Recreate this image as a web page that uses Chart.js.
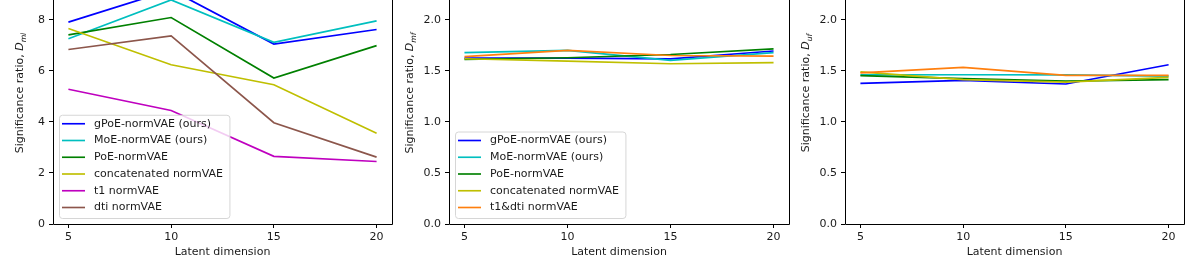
<!DOCTYPE html>
<html>
<head>
<meta charset="utf-8">
<script src="https://cdn.jsdelivr.net/npm/chart.js@4.4.0/dist/chart.umd.min.js"></script>
<style>
  html, body { margin: 0; padding: 0; background: #fff; }
  body { position: relative; width: 1196px; height: 264px; overflow: hidden; }
  .panel { position: absolute; top: -40px; height: 304px; }
</style>
</head>
<body>
<div class="panel" style="left:0px;width:400px"><canvas id="chartMl" width="400" height="304"></canvas></div>
<div class="panel" style="left:400px;width:396px"><canvas id="chartMf" width="396" height="304"></canvas></div>
<div class="panel" style="left:796px;width:400px"><canvas id="chartUf" width="400" height="304"></canvas></div>
<script>
// latent dimensions on the x axis
const latentDims = [5, 10, 15, 20];
const xTicks = [5, 10, 15, 20];
const mlTicks = [0, 2, 4, 6, 8];
const mfTicks = [0, 0.5, 1.0, 1.5, 2.0];

const labelsMl = ["gPoE-normVAE (ours)", "MoE-normVAE (ours)", "PoE-normVAE",
  "concatenated normVAE", "t1 normVAE", "dti normVAE"];
const labelsMf = ["gPoE-normVAE (ours)", "MoE-normVAE (ours)", "PoE-normVAE",
  "concatenated normVAE", "t1&dti normVAE"];

// significance ratio D_ml
const mlGPoE = [7.91, 9.17, 7.05, 7.62];
const mlMoE = [7.26, 8.78, 7.12, 7.96];
const mlPoE = [7.41, 8.09, 5.72, 6.99];
const mlConcat = [7.66, 6.24, 5.46, 3.56];
const mlT1 = [5.28, 4.45, 2.65, 2.45];
const mlDti = [6.84, 7.37, 3.97, 2.62];

// significance ratio D_mf
const mfGPoE = [1.625, 1.625, 1.618, 1.694];
const mfMoE = [1.678, 1.70, 1.602, 1.678];
const mfPoE = [1.612, 1.628, 1.66, 1.716];
const mfConcat = [1.619, 1.596, 1.57, 1.58];
const mfT1Dti = [1.64, 1.70, 1.65, 1.645];

// significance ratio D_uf
const ufGPoE = [1.378, 1.407, 1.371, 1.56];
const ufMoE = [1.46, 1.462, 1.46, 1.449];
const ufPoE = [1.453, 1.424, 1.40, 1.414];
const ufConcat = [1.49, 1.414, 1.39, 1.436];
const ufT1Dti = [1.48, 1.534, 1.456, 1.456];

const colorsMl = ["#0000ff", "#00bfbf", "#008000", "#bfbf00", "#bf00bf", "#8c564b"];
const colorsMf = ["#0000ff", "#00bfbf", "#008000", "#bfbf00", "#ff7f0e"];

const FONT = '"DejaVu Sans", sans-serif';
const TEXT = "#1a1a1a";

const decor = {
  id: "decor",
  afterDraw(chart, args, o) {
    const { ctx, chartArea: a } = chart;
    ctx.save();
    // axes frame
    ctx.strokeStyle = "#000";
    ctx.lineWidth = 1;
    ctx.beginPath();
    ctx.moveTo(a.left + 0.5, a.top);
    ctx.lineTo(a.left + 0.5, a.bottom + 0.5);
    ctx.lineTo(a.right + 0.5, a.bottom + 0.5);
    ctx.lineTo(a.right + 0.5, a.top);
    ctx.stroke();

    // legend (only where the figure has one)
    if (o.showLegend) {
      ctx.font = "11px " + FONT;
      const labels = o.labels, n = labels.length;
      const textW = Math.max(...labels.map(l => ctx.measureText(l).width));
      const rowH = 16.75;
      const boxL = a.left + 6;
      const boxB = a.bottom - 6;
      const lastC = boxB - 10.5;
      const firstC = lastC - (n - 1) * rowH;
      const boxT = firstC - 9;
      const textX = boxL + 35;
      const boxR = textX + textW + 6.5;
      ctx.beginPath();
      ctx.roundRect(boxL + 0.5, boxT + 0.5, boxR - boxL, boxB - boxT, 3);
      ctx.fillStyle = "rgba(255,255,255,0.8)";
      ctx.fill();
      ctx.strokeStyle = "#d6d6d6";
      ctx.stroke();
      ctx.textBaseline = "middle";
      labels.forEach((l, i) => {
        const c = firstC + i * rowH;
        ctx.strokeStyle = o.colors[i];
        ctx.lineWidth = 1.65;
        ctx.beginPath();
        ctx.moveTo(boxL + 3, c);
        ctx.lineTo(boxL + 26, c);
        ctx.stroke();
        ctx.fillStyle = TEXT;
        ctx.fillText(l, textX, c);
      });
    }

    // x axis title
    ctx.font = "11px " + FONT;
    ctx.fillStyle = TEXT;
    ctx.textAlign = "center";
    ctx.textBaseline = "middle";
    ctx.fillText("Latent dimension", (a.left + a.right) / 2, 292);

    // y axis title, rotated, with italic D and subscript
    ctx.save();
    ctx.translate(o.titleX, 133);
    ctx.rotate(-Math.PI / 2);
    ctx.textAlign = "left";
    ctx.textBaseline = "alphabetic";
    const main = "Significance ratio, ";
    ctx.font = "11px " + FONT;
    const w1 = ctx.measureText(main).width;
    ctx.font = "italic 11px " + FONT;
    const w2 = ctx.measureText("D").width;
    ctx.font = "italic 7.7px " + FONT;
    const w3 = ctx.measureText(o.sub).width;
    const x0 = -(w1 + w2 + w3) / 2;
    ctx.font = "11px " + FONT;
    ctx.fillText(main, x0, 4);
    ctx.font = "italic 11px " + FONT;
    ctx.fillText("D", x0 + w1, 4);
    ctx.font = "italic 7.7px " + FONT;
    ctx.fillText(o.sub, x0 + w1 + w2, 6.5);
    ctx.restore();

    ctx.restore();
  }
};

function makePanel(id, series, labels, colors, yTicks, yMax, decimals, g) {
  const datasets = series.map((vals, i) => ({
    label: labels[i],
    data: vals.map((v, j) => ({ x: latentDims[j], y: v })),
    borderColor: colors[i],
    backgroundColor: colors[i],
    borderWidth: 1.65,
    pointRadius: 0,
    tension: 0,
    fill: false,
    order: series.length - i
  }));
  return new Chart(document.getElementById(id), {
    type: "line",
    data: { datasets },
    options: {
      responsive: false,
      animation: false,
      events: [],
      layout: { padding: { left: 0, right: g.padRight, top: 10, bottom: 0 } },
      plugins: {
        legend: { display: false },
        tooltip: { enabled: false },
        decor: { labels, colors, titleX: g.titleX, sub: g.sub, showLegend: g.showLegend }
      },
      scales: {
        x: {
          type: "linear",
          min: 4.25,
          max: 20.75,
          afterBuildTicks: s => { s.ticks = xTicks.map(v => ({ value: v })); },
          afterFit: s => { s.height = 40; },
          grid: { drawOnChartArea: false, drawTicks: true, tickLength: 4, tickColor: "#000", tickWidth: 1 },
          border: { display: false },
          ticks: { font: { family: FONT, size: 11 }, color: TEXT, padding: 3, maxRotation: 0, autoSkip: false,
            callback: v => String(v) }
        },
        y: {
          type: "linear",
          min: 0,
          max: yMax,
          afterBuildTicks: s => { s.ticks = yTicks.map(v => ({ value: v })); },
          afterFit: s => { s.width = g.yWidth; },
          grid: { drawOnChartArea: false, drawTicks: true, tickLength: 4, tickColor: "#000", tickWidth: 1 },
          border: { display: false },
          ticks: { font: { family: FONT, size: 11 }, color: TEXT, padding: 4, autoSkip: false,
            callback: v => v.toFixed(decimals) }
        }
      }
    },
    plugins: [decor]
  });
}

makePanel("chartMl", [mlGPoE, mlMoE, mlPoE, mlConcat, mlT1, mlDti], labelsMl, colorsMl,
  mlTicks, 9.93, 0, { yWidth: 53, padRight: 8, titleX: 19, sub: "ml", showLegend: true });
makePanel("chartMf", [mfGPoE, mfMoE, mfPoE, mfConcat, mfT1Dti], labelsMf, colorsMf,
  mfTicks, 2.482, 1, { yWidth: 49, padRight: 7, titleX: 9, sub: "mf", showLegend: true });
makePanel("chartUf", [ufGPoE, ufMoE, ufPoE, ufConcat, ufT1Dti], labelsMf, colorsMf,
  mfTicks, 2.482, 1, { yWidth: 49, padRight: 12, titleX: 9, sub: "uf", showLegend: false });
</script>
</body>
</html>
